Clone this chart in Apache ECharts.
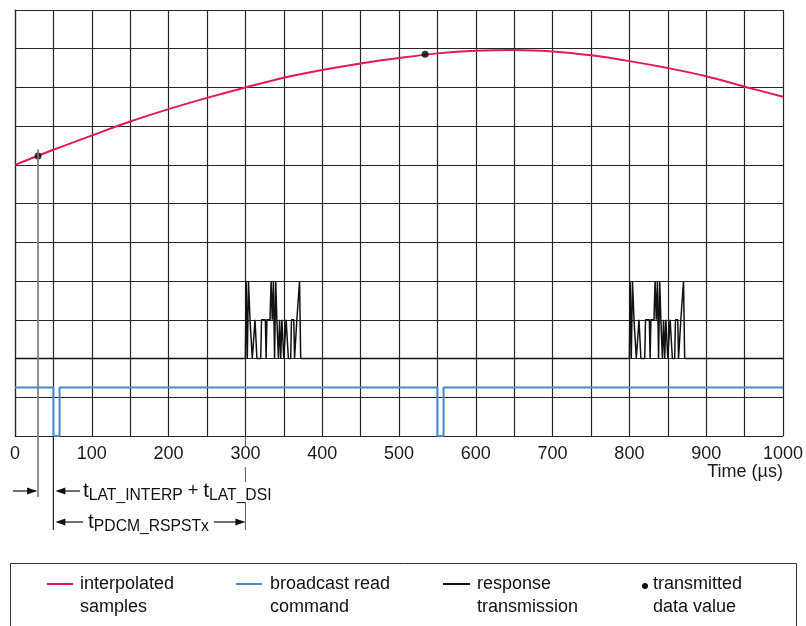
<!DOCTYPE html>
<html>
<head>
<meta charset="utf-8">
<script src="https://cdn.jsdelivr.net/npm/echarts@6/dist/echarts.min.js"></script>
<style>
  html, body { margin: 0; padding: 0; background: #fff; }
  #chart { width: 806px; height: 626px; }
</style>
</head>
<body>
<div id="chart"></div>
<script>
// Time axis (µs) with labelled ticks every 100 µs, grid every 50 µs
const labelTicks = [0, 100, 200, 300, 400, 500, 600, 700, 800, 900, 1000];

// Interpolated samples (red curve)
const curveTimes  = [0, 50, 100, 150, 200, 250, 300, 350, 400, 450, 500, 550, 600, 650, 700, 750, 800, 850, 900, 950, 1000];
const curveValues = [7.00, 7.39, 7.76, 8.12, 8.44, 8.73, 9.00, 9.25, 9.45, 9.62, 9.76, 9.88, 9.95, 9.97, 9.93, 9.83, 9.68, 9.50, 9.29, 9.02, 8.76];

// Transmitted data values (dots on the curve)
const sampleTimes  = [30, 534];
const sampleValues = [7.23, 9.86];

// Broadcast read command (blue): idle high, low pulse per command
const cmdTimes  = [0, 50, 50, 58, 58, 550, 550, 558, 558, 1000];
const cmdLevels = [1.25, 1.25, 0, 0, 1.25, 1.25, 0, 0, 1.25, 1.25];

// Response transmission (black): idle level 2, multi-level bursts
const resp1Times  = [0, 300, 301, 302.5, 304, 306, 308, 309, 311.5, 312.5, 314, 315, 320, 321, 326, 327, 328, 332, 333.5, 335, 336.5, 338, 339.5, 341, 342, 343, 344.5, 346, 347.5, 349, 350, 352, 353, 355, 356, 359, 360, 363, 364, 366, 367, 369, 370.5, 372, 800];
const resp1Levels = [2, 2, 4, 2, 4, 3, 3, 2, 2, 3, 3, 2, 2, 3, 3, 2, 3, 3, 4, 3, 4, 2, 4, 3, 3, 2, 3, 2, 3, 3, 2, 2, 3, 3, 2, 2, 3, 3, 2, 2, 3, 3, 4, 2, 2];
const resp2Times  = [800, 801, 802.5, 804, 806, 808, 809, 811.5, 812.5, 814, 815, 820, 821, 826, 827, 828, 832, 833.5, 835, 836.5, 838, 839.5, 841, 842, 843, 844.5, 846, 847.5, 849, 850, 852, 853, 855, 856, 859, 860, 863, 864, 866, 867, 869, 870.5, 872, 1000];
const resp2Levels = [2, 4, 2, 4, 3, 3, 2, 2, 3, 3, 2, 2, 3, 3, 2, 3, 3, 4, 3, 4, 2, 4, 3, 3, 2, 3, 2, 3, 3, 2, 2, 3, 3, 2, 2, 3, 3, 2, 2, 3, 3, 4, 2, 2];

// Timing annotation anchors (µs)
const tSample = 30;      // sample taken
const tCommand = 50;     // broadcast read command
const tResponse = 300;   // response transmission start

const FONT = "'Liberation Sans', Arial, Helvetica, sans-serif";
const GRID = '#262626';

const zip = (xs, ys) => xs.map((x, i) => [x, ys[i]]);

const chart = echarts.init(document.getElementById('chart'), null, { renderer: 'canvas' });

chart.setOption({
  animation: false,
  backgroundColor: '#fff',
  grid: { left: 15, right: 23, top: 10, bottom: 190, containLabel: false },
  xAxis: {
    type: 'value', min: 0, max: 1000, interval: 50,
    axisLine: { show: true, lineStyle: { color: GRID, width: 1.2 } },
    axisTick: { show: false },
    splitLine: { show: true, lineStyle: { color: GRID, width: 1.2 } },
    axisLabel: {
      formatter: v => labelTicks.includes(v) ? String(v) : '',
      color: '#1a1a1a', fontSize: 18, fontFamily: FONT, margin: 9
    }
  },
  yAxis: {
    type: 'value', min: 0, max: 11, interval: 1,
    axisLine: { show: true, lineStyle: { color: GRID, width: 1.2 } },
    axisTick: { show: false },
    axisLabel: { show: false },
    splitLine: { show: true, lineStyle: { color: GRID, width: 1.2 } }
  },
  series: [
    {
      name: 'interpolated samples', type: 'line', smooth: 0.35, showSymbol: false,
      data: zip(curveTimes, curveValues),
      lineStyle: { color: '#e3195a', width: 2 }, z: 3
    },
    {
      name: 'broadcast read command', type: 'line', showSymbol: false,
      data: zip(cmdTimes, cmdLevels),
      lineStyle: { color: '#4a88cc', width: 2 }, z: 3
    },
    {
      name: 'response transmission', type: 'line', showSymbol: false,
      data: zip(resp1Times, resp1Levels),
      lineStyle: { color: '#111', width: 1.5 }, z: 4
    },
    {
      name: 'response transmission', type: 'line', showSymbol: false,
      data: zip(resp2Times, resp2Levels),
      lineStyle: { color: '#111', width: 1.5 }, z: 4
    },
    {
      name: 'transmitted data value', type: 'scatter', symbolSize: 7,
      data: zip(sampleTimes, sampleValues),
      itemStyle: { color: '#000' }, z: 6
    }
  ]
});

const px = t => chart.convertToPixel({ xAxisIndex: 0 }, t);
const py = v => chart.convertToPixel({ yAxisIndex: 0 }, v);

function hLine(x1, x2, y, color, w) {
  return { type: 'line', shape: { x1, y1: y, x2, y2: y }, style: { stroke: color || '#111', lineWidth: w || 1.2 }, z: 10 };
}
function vLine(x, y1, y2, color, w) {
  return { type: 'line', shape: { x1: x, y1, x2: x, y2 }, style: { stroke: color || '#111', lineWidth: w || 1 }, z: 10 };
}
function head(tipX, y, dir) {
  const L = 10, H = 3.5;
  return { type: 'polygon', shape: { points: [[tipX, y], [tipX - dir * L, y - H], [tipX - dir * L, y + H]] }, style: { fill: '#111' }, z: 11 };
}
function label(x, y, text, rich) {
  return {
    type: 'text', x, y, z: 12,
    style: {
      text, rich, fill: '#111', font: '18px ' + FONT, fontFamily: FONT,
      align: 'left', textAlign: 'left', verticalAlign: 'middle', textVerticalAlign: 'middle'
    }
  };
}

const richT = {
  m: { fontSize: 21, fontFamily: FONT, color: '#111', lineHeight: 22 },
  p: { fontSize: 18, fontFamily: FONT, color: '#111', lineHeight: 22 },
  s: { fontSize: 15.7, fontFamily: FONT, color: '#111', lineHeight: 22, padding: [10, 0, 0, 0] }
};

const xS = px(tSample), xC = px(tCommand), xR = px(tResponse);
const yBottom = py(0);
const row1 = 491, row2 = 522;

function legendText(x, text) {
  return {
    type: 'text', x, y: 573, z: 12,
    style: { text, fill: '#111', font: '18px ' + FONT, fontFamily: FONT, fontSize: 18, lineHeight: 23,
      align: 'left', textAlign: 'left', verticalAlign: 'top', textVerticalAlign: 'top' }
  };
}

chart.setOption({
  graphic: [
    // sample instant marker
    vLine(xS, py(7.4), 497, '#7a7a7a', 1.7),
    // command instant marker
    vLine(xC, yBottom, 530, '#222', 1.2),
    // response start marker, broken by tick label and text
    vLine(xR, yBottom + 1, 446, '#555', 1),
    vLine(xR, 467, 482, '#555', 1),
    vLine(xR, 503, 530, '#555', 1),

    // row 1: latency
    hLine(13, xS - 2, row1),
    head(xS - 1, row1, 1),
    hLine(xC + 6, 80, row1),
    head(xC + 2, row1, -1),
    label(83, row1, '{m|t}{s|LAT_INTERP}{p| + }{m|t}{s|LAT_DSI}', richT),

    // row 2: response start time
    hLine(xC + 6, 83, row2),
    head(xC + 2, row2, -1),
    label(88, row2, '{m|t}{s|PDCM_RSPSTx}', richT),
    hLine(214, xR - 4, row2),
    head(xR, row2, 1),

    // axis title
    {
      type: 'text', x: px(1000), y: 472, z: 12,
      style: { text: 'Time (µs)', fill: '#1a1a1a', font: '18px ' + FONT, fontSize: 18, fontFamily: FONT,
        align: 'right', textAlign: 'right', verticalAlign: 'middle', textVerticalAlign: 'middle' }
    },

    // legend box
    { type: 'rect', shape: { x: 10.5, y: 563.5, width: 786, height: 80 }, style: { fill: 'none', stroke: '#333', lineWidth: 1 }, z: 10 },
    hLine(47, 73, 584, '#e3195a', 2),
    legendText(80, 'interpolated\nsamples'),
    hLine(236, 262, 584, '#4a88cc', 2),
    legendText(270, 'broadcast read\ncommand'),
    hLine(443, 470, 584, '#111', 2),
    legendText(477, 'response\ntransmission'),
    { type: 'circle', shape: { cx: 645, cy: 586, r: 3 }, style: { fill: '#111' }, z: 11 },
    legendText(653, 'transmitted\ndata value')
  ]
});
</script>
</body>
</html>
